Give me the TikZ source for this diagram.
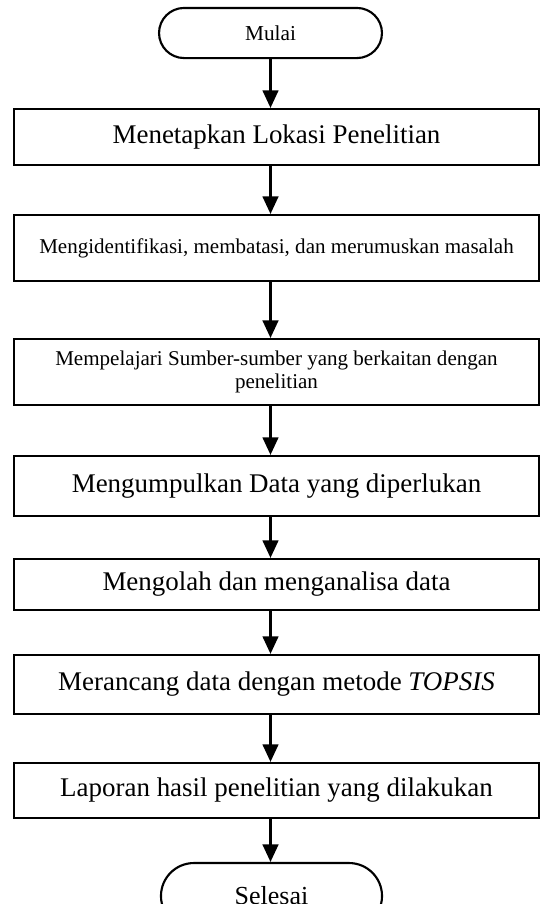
\documentclass[tikz,border=0pt]{standalone}
\usepackage{fontspec}
\setmainfont{Liberation Serif}
\usetikzlibrary{arrows.meta,shapes.misc}
\begin{document}
\begin{tikzpicture}[x=0.423pt,y=-0.423pt,
  stepbox/.style={draw,line width=0.9pt,rectangle,inner sep=0pt,minimum width=222.1pt,align=center},
  termbox/.style={draw,line width=0.9pt,rounded rectangle,inner sep=0pt,align=center},
  bigtxt/.style={font=\fontsize{11.4}{13.6}\selectfont},
  smalltxt/.style={font=\fontsize{8.9}{10}\selectfont},
  arr/.style={line width=1pt,-{Triangle[width=6.6pt,length=7.4pt]}}]
\useasboundingbox (0,0) rectangle (542,904);
\clip (0,0) rectangle (542,904);
\node[termbox,minimum width=94.3pt,minimum height=21.2pt,font=\fontsize{9}{10.8}\selectfont] (mulai) at (270.5,33) {Mulai};
\node[stepbox,bigtxt,minimum height=23.7pt] (b1) at (276.5,137) {Menetapkan Lokasi Penelitian};
\node[stepbox,smalltxt,minimum height=27.9pt] (b2) at (276.5,248) {Mengidentifikasi, membatasi, dan merumuskan masalah};
\node[stepbox,smalltxt,minimum height=27.9pt] (b3) at (276.5,372) {Mempelajari Sumber-sumber yang berkaitan dengan\\penelitian};
\node[stepbox,bigtxt,minimum height=25.4pt] (b4) at (276.5,486) {Mengumpulkan Data yang diperlukan};
\node[stepbox,bigtxt,minimum height=21.6pt] (b5) at (276.5,584.5) {Mengolah dan menganalisa data};
\node[stepbox,bigtxt,minimum height=25.0pt] (b6) at (276.5,684.5) {Merancang data dengan metode \textit{TOPSIS}};
\node[stepbox,bigtxt,minimum height=23.3pt] (b7) at (276.5,790.5) {Laporan hasil penelitian yang dilakukan};
\node[termbox,minimum width=93.5pt,minimum height=27.9pt,font=\fontsize{11}{13}\selectfont] (selesai) at (271.5,896) {Selesai};
\draw[arr] (mulai.south) -- (mulai.south |- b1.north);
\draw[arr] (b1.south -| mulai.south) -- (b2.north -| mulai.south);
\draw[arr] (b2.south -| mulai.south) -- (b3.north -| mulai.south);
\draw[arr] (b3.south -| mulai.south) -- (b4.north -| mulai.south);
\draw[arr] (b4.south -| mulai.south) -- (b5.north -| mulai.south);
\draw[arr] (b5.south -| mulai.south) -- (b6.north -| mulai.south);
\draw[arr] (b6.south -| mulai.south) -- (b7.north -| mulai.south);
\draw[arr] (b7.south -| mulai.south) -- (selesai.north -| mulai.south);
\end{tikzpicture}
\end{document}
